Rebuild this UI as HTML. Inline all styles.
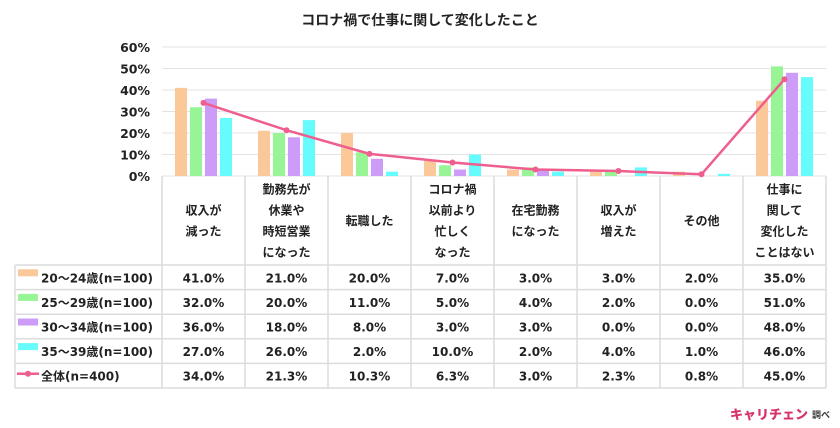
<!DOCTYPE html>
<html><head><meta charset="utf-8"><style>
body{margin:0;background:#fff;}
svg{display:block;font-family:"DejaVu Sans","Noto Sans CJK JP",sans-serif;font-weight:bold;}
</style></head><body>
<svg id="c" width="840" height="428" viewBox="0 0 840 428">
<text x="420" y="25" text-anchor="middle" font-size="14" fill="#222" font-family="Liberation Sans, Noto Sans CJK JP, sans-serif">コロナ禍で仕事に関して変化したこと</text>
<g id="grid"></g><g id="bars"></g><g id="line"></g><g id="table"></g>
<text x="730" y="419" font-size="13" fill="#d6336c" font-family="Noto Sans CJK JP, sans-serif" font-weight="900">キャリチェン</text>
<text x="812" y="418" font-size="9" fill="#333" font-family="Noto Sans CJK JP, sans-serif">調べ</text>
</svg>
<script>
const categories=[["収入が","減った"],["勤務先が","休業や","時短営業","になった"],["転職した"],["コロナ禍","以前より","忙しく","なった"],["在宅勤務","になった"],["収入が","増えた"],["その他"],["仕事に","関して","変化した","ことはない"]];
const seriesNames=["20～24歳(n=100)","25～29歳(n=100)","30～34歳(n=100)","35～39歳(n=100)"];
const s1=[41,21,20,7,3,3,2,35];
const s2=[32,20,11,5,4,2,0,51];
const s3=[36,18,8,3,3,0,0,48];
const s4=[27,26,2,10,2,4,1,46];
const total=[34,21.3,10.3,6.3,3,2.3,0.8,45];
const totalName="全体(n=400)";
const yTicks=[0,10,20,30,40,50,60];
const colors=["#fbc89a","#98f595","#cc9cf8","#66fbfc"];
const NS="http://www.w3.org/2000/svg";
const X0=162,CW=83,Y0=176,YT=47;
const y=v=>Y0-(v/60)*(Y0-YT);
const gx=i=>X0+i*CW;
function mk(p,t,a){const e=document.createElementNS(NS,t);for(const k in a)e.setAttribute(k,a[k]);p.appendChild(e);return e;}
const G=document.getElementById('grid'),B=document.getElementById('bars'),L=document.getElementById('line'),T=document.getElementById('table');
yTicks.forEach(v=>{
 const l=mk(G,'line',{x1:X0,x2:826,y1:y(v),y2:y(v),stroke:'#e3e3e3','stroke-width':1});
 
 
 const t=mk(G,'text',{x:150,y:y(v)+5,'text-anchor':'end','font-size':12.5,fill:'#222'});t.textContent=v+'%';
 
 
});
const series=[s1,s2,s3,s4];
series.forEach((s,si)=>s.forEach((v,i)=>{
 const r=mk(B,'rect',{x:gx(i)+13+si*15,y:y(v),width:12,height:Y0-y(v),fill:colors[si]});
 
 
}));
const pts=total.map((v,i)=>[gx(i)+CW/2,y(v)]);
const pl=mk(L,'polyline',{points:pts.map(p=>p.join(',')).join(' '),fill:'none',stroke:'#ee5f8e','stroke-width':2.5});


pts.forEach(p=>{const c=mk(L,'circle',{cx:p[0],cy:p[1],r:3,fill:'#ee5f8e'});
 
 });
const HB=265,RH=24.6,TB=HB+RH*5;
const st={stroke:'#dcdcdc','stroke-width':1.5};
mk(T,'line',Object.assign({x1:15,x2:826,y1:HB,y2:HB},st));
for(let r=1;r<=5;r++)mk(T,'line',Object.assign({x1:15,x2:826,y1:HB+RH*r,y2:HB+RH*r},st));
mk(T,'line',Object.assign({x1:15,x2:15,y1:HB,y2:TB},st));
for(let i=0;i<=8;i++)mk(T,'line',Object.assign({x1:gx(i),x2:gx(i),y1:Y0,y2:TB},st));
categories.forEach((c,i)=>{const n=c.length,mid=220.5;c.forEach((s,j)=>{
 const t=mk(T,'text',{x:gx(i)+CW/2,y:mid+(j-(n-1)/2)*21+4.5,'text-anchor':'middle','font-size':12,fill:'#222'});t.textContent=s;
 
 });});
const rows=[s1,s2,s3,s4,total];
rows.forEach((s,ri)=>{const cy=HB+RH*ri+RH/2;
 if(ri<4){const sw=mk(T,'rect',{x:18,y:cy-8,width:20,height:7,fill:colors[ri]});
  
  }
 else{mk(T,'line',{x1:17,x2:39,y1:cy-2,y2:cy-2,stroke:'#ee5f8e','stroke-width':2.5});mk(T,'circle',{cx:28,cy:cy-2,r:3,fill:'#ee5f8e'});}
 const lt=mk(T,'text',{x:41,y:cy+5,'font-size':12,fill:'#222'});lt.textContent=ri<4?seriesNames[ri]:totalName;
 
 
 s.forEach((v,i)=>{const t=mk(T,'text',{x:gx(i)+CW/2,y:cy+5,'text-anchor':'middle','font-size':12,fill:'#222'});t.textContent=v.toFixed(1)+'%';
  
  });
});
</script>
</body></html>
